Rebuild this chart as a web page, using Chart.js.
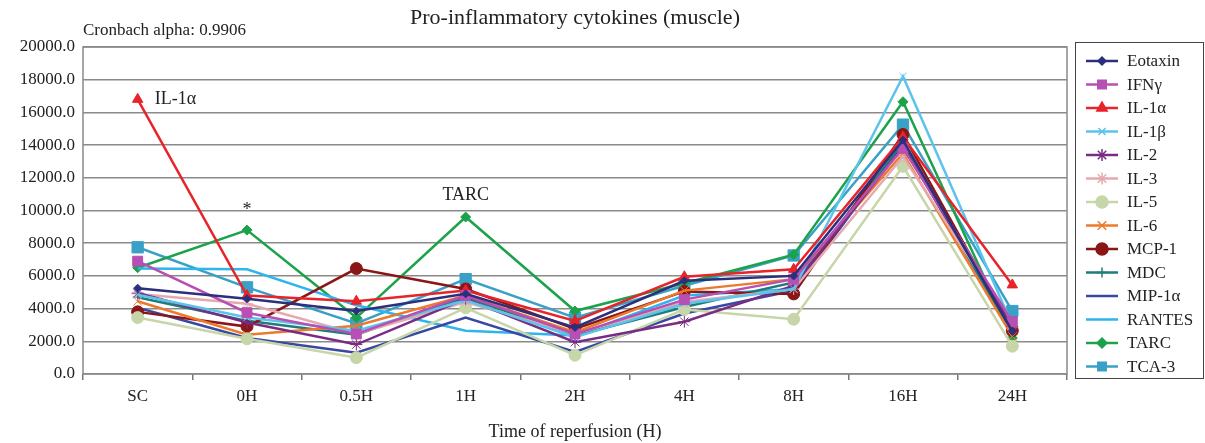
<!doctype html>
<html lang="en">
  <head>
    <meta charset="UTF-8" />
    <title>Pro-inflammatory cytokines (muscle)</title>
    <script src="https://cdn.jsdelivr.net/npm/chart.js"></script>
    <style>
      html, body { margin: 0; padding: 0; background: #fff; }
      .chart-container { position: relative; width: 1205px; height: 443px; }
    </style>
  </head>
  <body>
    <div class="chart-container">
      <canvas id="cytoChart" width="1205" height="443"></canvas>
    </div>

    <script>
      const times = ['SC', '0H', '0.5H', '1H', '2H', '4H', '8H', '16H', '24H']

      const eotaxin = [5250, 4600, 3850, 4900, 2850, 5700, 6000, 14300, 2600]
      const ifng = [6900, 3750, 2450, 4800, 2450, 4550, 5800, 13800, 3200]
      const il1a = [16800, 4800, 4450, 5100, 3250, 5950, 6400, 14500, 5450]
      const il1b = [4850, 3450, 2650, 4500, 2250, 4300, 5200, 18200, 3000]
      const il2 = [4950, 3150, 1800, 4600, 1950, 3200, 5400, 13900, 2900]
      const il3 = [4900, 4300, 2450, 4400, 2450, 4400, 5200, 13300, 3100]
      const il5 = [3450, 2150, 1000, 4050, 1150, 3950, 3350, 12700, 1700]
      const il6 = [4450, 2400, 2950, 4800, 2550, 5100, 5800, 13500, 2300]
      const mcp1 = [3800, 2900, 6450, 5200, 2750, 5050, 4900, 14650, 2650]
      const mdc = [4700, 3250, 2400, 4700, 2350, 4100, 5600, 14100, 2400]
      const mip1a = [4050, 2200, 1300, 3450, 1350, 3700, 5100, 14100, 2500]
      const rantes = [6450, 6400, 4200, 2650, 2350, 4800, 5200, 14000, 2800]
      const tarc = [6500, 8800, 3450, 9600, 3850, 5550, 7300, 16650, 2200]
      const tca3 = [7750, 5300, 3100, 5800, 3450, 5400, 7250, 15250, 3850]

      const serif = "'Liberation Serif', 'DejaVu Serif', serif"

      // name, values, colour, marker, marker radius
      const series = [
        ['Eotaxin', eotaxin, '#2c2f7c', 'rectRot', 4],
        ['IFNγ', ifng, '#b84fb3', 'rect', 7],
        ['IL-1α', il1a, '#e8232a', 'triangle', 6],
        ['IL-1β', il1b, '#5cc4ea', 'crossRot', 5],
        ['IL-2', il2, '#7a2c84', 'star', 6],
        ['IL-3', il3, '#e4aab0', 'star', 6],
        ['IL-5', il5, '#c7d6a8', 'circle', 6],
        ['IL-6', il6, '#ec7a2c', 'crossRot', 6],
        ['MCP-1', mcp1, '#8a1616', 'circle', 6],
        ['MDC', mdc, '#1e7c7a', 'cross', 5],
        ['MIP-1α', mip1a, '#3949a2', false, 0],
        ['RANTES', rantes, '#2db5ec', false, 0],
        ['TARC', tarc, '#1ca24a', 'rectRot', 5],
        ['TCA-3', tca3, '#3aa1c6', 'rect', 8]
      ]

      const datasets = series.map(([label, values, color, marker, r]) => ({
        label: label,
        data: values,
        borderColor: color,
        backgroundColor: color,
        borderWidth: 2.5,
        tension: 0,
        pointStyle: marker,
        pointRadius: r,
        pointBorderWidth: 1,
        pointBackgroundColor: color,
        pointBorderColor: color
      }))

      // box round the plot area
      const frame = {
        id: 'frame',
        beforeDatasetsDraw(chart) {
          const a = chart.chartArea
          const ctx = chart.ctx
          ctx.save()
          ctx.strokeStyle = '#8a8a8a'
          ctx.lineWidth = 1.5
          ctx.strokeRect(a.left, a.top, a.right - a.left, a.bottom - a.top)
          ctx.restore()
        }
      }

      // notes on the plot and the boxed legend on the right
      const notes = {
        id: 'notes',
        afterDraw(chart) {
          const ctx = chart.ctx
          const x = chart.scales.x
          const y = chart.scales.y
          ctx.save()
          ctx.fillStyle = '#222'
          ctx.textBaseline = 'middle'
          ctx.textAlign = 'left'
          ctx.font = '17px ' + serif
          ctx.fillText('Cronbach alpha: 0.9906', chart.chartArea.left, 31)
          ctx.font = '18px ' + serif
          ctx.fillText('IL-1α', x.getPixelForValue(0) + 17, y.getPixelForValue(il1a[0]))
          ctx.textAlign = 'center'
          ctx.fillText('*', x.getPixelForValue(1), y.getPixelForValue(tarc[1]) - 20)
          ctx.fillText('TARC', x.getPixelForValue(3), y.getPixelForValue(tarc[3]) - 22)

          // legend
          const lx = 1075, ly = 42, lw = 128, lh = 336
          ctx.strokeStyle = '#444'
          ctx.lineWidth = 1
          ctx.strokeRect(lx + 0.5, ly + 0.5, lw, lh)
          ctx.textAlign = 'left'
          ctx.font = '17px ' + serif
          chart.data.datasets.forEach((ds, i) => {
            const cy = 61 + i * 23.5
            ctx.strokeStyle = ds.borderColor
            ctx.lineWidth = 2.5
            ctx.beginPath()
            ctx.moveTo(1086, cy)
            ctx.lineTo(1118, cy)
            ctx.stroke()
            if (ds.pointStyle) {
              ctx.fillStyle = ds.borderColor
              ctx.lineWidth = 1.5
              Chart.helpers.drawPoint(ctx, {
                pointStyle: ds.pointStyle,
                radius: Math.min(ds.pointRadius, 6),
                rotation: 0,
                borderWidth: 1.5
              }, 1102, cy)
            }
            ctx.fillStyle = '#222'
            ctx.fillText(ds.label, 1127, cy + 1)
          })
          ctx.restore()
        }
      }

      const ctx = document.getElementById('cytoChart').getContext('2d')
      new Chart(ctx, {
        type: 'line',
        data: { labels: times, datasets: datasets },
        options: {
          responsive: false,
          animation: false,
          layout: { padding: { left: 0, right: 138, top: 0, bottom: 0 } },
          plugins: {
            legend: { display: false },
            tooltip: { enabled: false },
            title: {
              display: true,
              fullSize: false,
              text: 'Pro-inflammatory cytokines (muscle)',
              color: '#222',
              font: { family: serif, size: 22, weight: 'normal' },
              padding: { top: 5, bottom: 15.6 }
            }
          },
          scales: {
            x: {
              offset: true,
              afterFit: (s) => { s.height = 69 },
              grid: { offset: true, drawOnChartArea: false, tickLength: 6, color: '#777', lineWidth: 1.5 },
              border: { display: false },
              ticks: { color: '#222', font: { family: serif, size: 17 }, padding: 6, autoSkip: false, maxRotation: 0 },
              title: {
                display: true,
                text: 'Time of reperfusion (H)',
                color: '#222',
                font: { family: serif, size: 18 },
                padding: { top: 2, bottom: 0 }
              }
            },
            y: {
              min: 0,
              max: 20000,
              afterFit: (s) => { s.width = 83 },
              grid: { color: '#8a8a8a', lineWidth: 1.5, drawTicks: false },
              border: { display: false },
              ticks: {
                stepSize: 2000,
                color: '#222',
                padding: 8,
                font: { family: serif, size: 17 },
                callback: (v) => v.toFixed(1)
              }
            }
          }
        },
        plugins: [frame, notes]
      })
    </script>
  </body>
</html>
